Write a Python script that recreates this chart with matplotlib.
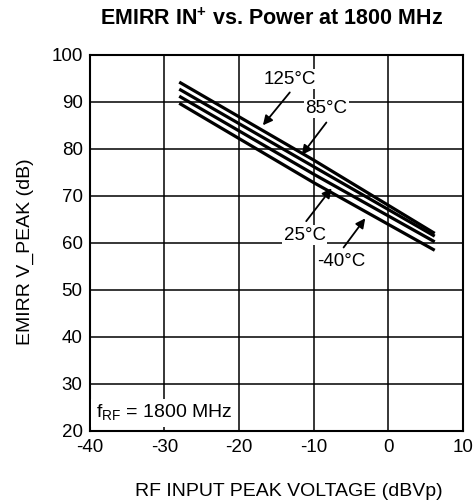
import numpy as np
import matplotlib.pyplot as plt

plt.rcParams['font.family'] = ['Liberation Sans', 'DejaVu Sans']
plt.rcParams['mathtext.fontset'] = 'custom'
plt.rcParams['mathtext.rm'] = 'Liberation Sans'
plt.rcParams['axes.unicode_minus'] = False

# RF input peak voltage (dBVp)
x_data = np.array([-28, -10, 6.2])
# EMIRR (dB) per temperature
y_125 = np.array([94.2, 77.6, 62.0])
y_85 = np.array([92.7, 76.2, 61.4])
y_25 = np.array([91.2, 74.6, 60.2])
y_m40 = np.array([89.7, 72.8, 58.4])

x_ticks = [-40, -30, -20, -10, 0, 10]
y_ticks = [20, 30, 40, 50, 60, 70, 80, 90, 100]

fig = plt.figure(figsize=(4.74, 5.04), dpi=100)
ax = fig.add_axes([0.189, 0.1454, 0.788, 0.7458])

for y in [y_125, y_85, y_25, y_m40]:
    ax.plot(x_data, y, color='black', lw=2.3, solid_capstyle='butt', zorder=3)

ax.set_xlim(-40, 10)
ax.set_ylim(20, 100)
ax.set_xticks(x_ticks)
ax.set_yticks(y_ticks)
ax.grid(True, color='black', lw=1.1)
ax.tick_params(length=0, labelsize=13.5)
ax.tick_params(axis='x', pad=6)
ax.tick_params(axis='y', pad=5)
for s in ax.spines.values():
    s.set_linewidth(1.5)

# labels with arrows
box = dict(facecolor='white', edgecolor='none', pad=1)
arrow = dict(arrowstyle='-|>', color='black', lw=1.3, mutation_scale=14, shrinkA=0, shrinkB=0)
labels = [('125°C', (-16.8, 85.0), (-13.2, 94.8), (-13.2, 92.0)),
          ('85°C', (-11.6, 78.7), (-8.3, 88.6), (-8.3, 85.6)),
          ('25°C', (-7.6, 71.6), (-11.2, 61.6), (-11.0, 64.6)),
          ('-40°C', (-3.1, 65.2), (-6.3, 56.0), (-6.0, 59.0))]
for txt, head, pos, tail in labels:
    ax.annotate('', xy=head, xytext=tail, arrowprops=arrow, zorder=4)
    ax.text(pos[0], pos[1], txt, ha='center', va='center', fontsize=13.5,
            bbox=box, zorder=5)

ax.text(-39.2, 23.8, r'f$_{\mathregular{RF}}$ = 1800 MHz', fontsize=14,
        ha='left', va='center', bbox=dict(facecolor='white', edgecolor='none', pad=3), zorder=5)

fig.text(0.572, 0.962, r'EMIRR IN$^{\mathregular{+}}$ vs. Power at 1800 MHz',
         ha='center', va='center', fontsize=15.5, fontweight='bold')
fig.text(0.61, 0.024, 'RF INPUT PEAK VOLTAGE (dBVp)', ha='center', va='center', fontsize=14)
fig.text(0.053, 0.5, 'EMIRR V_PEAK (dB)', ha='center', va='center', rotation=90, fontsize=14)

fig.savefig('out.png', dpi=100)
